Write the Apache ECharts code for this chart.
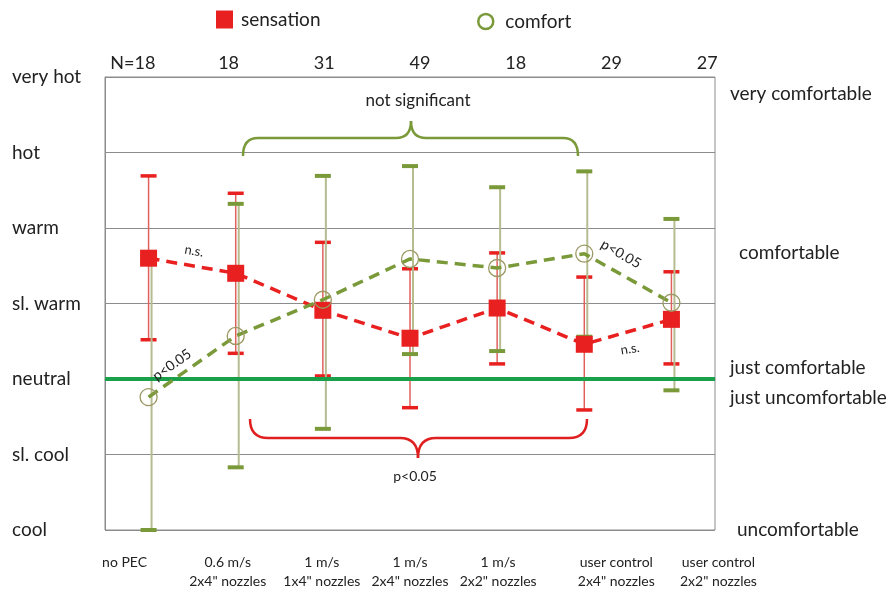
<!DOCTYPE html>
<html>
<head>
<meta charset="utf-8">
<script src="https://cdn.jsdelivr.net/npm/echarts@6/dist/echarts.min.js"></script>
<style>
  html, body { margin: 0; padding: 0; background: #fff; }
  #chart { width: 893px; height: 592px; }
</style>
</head>
<body>
<div id="chart"></div>
<script>
// Test conditions (x axis) and number of votes per condition
const conditions = ['no PEC', '0.6 m/s\n2x4" nozzles', '1 m/s\n1x4" nozzles', '1 m/s\n2x4" nozzles',
                    '1 m/s\n2x2" nozzles', 'user control\n2x4" nozzles', 'user control\n2x2" nozzles'];
const sampleSizes = ['N=18', '18', '31', '49', '18', '29', '27'];

// Thermal sensation scale: -2 (cool) ... 4 (very hot)
const sensationLevels = ['cool', 'sl. cool', 'neutral', 'sl. warm', 'warm', 'hot', 'very hot'];
// Comfort scale labels and where they sit on the shared vertical scale
const comfortLevels = ['very comfortable', 'comfortable', 'just comfortable', 'just uncomfortable', 'uncomfortable'];
const comfortLevelValues = [3.77, 1.67, 0.15, -0.25, -2.0];

// Mean votes with ranges
const sensationMean = [1.60, 1.40, 0.91, 0.54, 0.94, 0.46, 0.79];
const sensationHigh = [2.69, 2.46, 1.81, 1.46, 1.67, 1.35, 1.42];
const sensationLow  = [0.52, 0.34, 0.04, -0.38, 0.20, -0.41, 0.20];
const comfortMean = [-0.24, 0.57, 1.05, 1.59, 1.47, 1.66, 1.01];
const comfortHigh = [1.58, 2.32, 2.69, 2.82, 2.54, 2.75, 2.12];
const comfortLow  = [-2.00, -1.17, -0.66, 0.33, 0.37, 0.56, -0.15];

// Horizontal nudges for the condition labels (px)
const labelShift = [-24, -8, -1, 0, 1, 32, 47];
const comfortIndent = [0, 9, 0, 0, 7];

const FONT = 'Lato';
const TXT = '#222';
const RED = '#e8201f';
const OLIVE = '#7a9a3a';
const GRID = '#8c8c8c';

function errorBars(lineColor, lineWidth, capColor, capW, capH, dx) {
  return function (params, api) {
    const i = api.value(0);
    const top = api.coord([i, api.value(1)]);
    const bot = api.coord([i, api.value(2)]);
    const x = top[0];
    return {
      type: 'group',
      children: [
        { type: 'line', shape: { x1: x + dx, y1: top[1], x2: x + dx, y2: bot[1] },
          style: { stroke: lineColor, lineWidth: lineWidth } },
        { type: 'rect', shape: { x: x - capW / 2, y: top[1] - capH / 2, width: capW, height: capH },
          style: { fill: capColor } },
        { type: 'rect', shape: { x: x - capW / 2, y: bot[1] - capH / 2, width: capW, height: capH },
          style: { fill: capColor } }
      ]
    };
  };
}

// Curly brace built from curves and straight segments
function brace(xl, xr, xm, yEnd, yBar, yTip, r, color) {
  const st = { stroke: color, lineWidth: 2.5, fill: 'none' };
  const curve = (x1, y1, x2, y2, cx, cy) =>
    ({ type: 'bezierCurve', z: 10, shape: { x1, y1, x2, y2, cpx1: cx, cpy1: cy }, style: st });
  const seg = (x1, x2) => ({ type: 'line', z: 10, shape: { x1, y1: yBar, x2, y2: yBar }, style: st });
  return [
    curve(xl, yEnd, xl + r, yBar, xl, yBar),
    seg(xl + r, xm - r),
    curve(xm - r, yBar, xm, yTip, xm, yBar),
    curve(xm, yTip, xm + r, yBar, xm, yBar),
    seg(xm + r, xr - r),
    curve(xr - r, yBar, xr, yEnd, xr, yBar)
  ];
}

const richShift = {};
labelShift.forEach((d, i) => {
  richShift['s' + i] = {
    fontSize: 14, lineHeight: 19, color: TXT, fontFamily: FONT,
    padding: [0, d < 0 ? -2 * d : 0, 0, d > 0 ? 2 * d : 0]
  };
});
const richIndent = {};
comfortIndent.forEach((d, i) => {
  richIndent['c' + i] = { fontSize: 19, color: TXT, fontFamily: FONT, padding: [0, 0, 0, d] };
});

const chart = echarts.init(document.getElementById('chart'), null, { renderer: 'canvas' });

const textEl = (text, x, y, size, rotation) => ({
  type: 'text', x, y, rotation: rotation || 0, z: 10,
  style: { text, fill: TXT, font: size + 'px ' + FONT, align: 'center', verticalAlign: 'middle' }
});

chart.setOption({
  animation: false,
  backgroundColor: '#fff',
  textStyle: { fontFamily: FONT },
  legend: [
    { left: 216, top: 10, padding: 0, itemWidth: 17, itemHeight: 18, selectedMode: false,
      data: [{ name: 'sensation', icon: 'rect', itemStyle: { color: RED } }],
      textStyle: { fontSize: 19, color: TXT, fontFamily: FONT, padding: [0, 0, 8, 3] } },
    { left: 477, top: 12, padding: 0, itemWidth: 15, itemHeight: 15, selectedMode: false,
      data: [{ name: 'comfort', icon: 'circle',
               itemStyle: { color: '#fff', borderColor: OLIVE, borderWidth: 2.5 } }],
      textStyle: { fontSize: 19, color: TXT, fontFamily: FONT, padding: [0, 0, 4, 7] } }
  ],
  grid: [
    { left: 105, right: 178, top: 77, bottom: 62, show: true, borderColor: GRID, borderWidth: 1 },
    { left: 85, right: 138, top: 77, bottom: 62, show: false }
  ],
  xAxis: [
    { type: 'category', gridIndex: 0, data: conditions, boundaryGap: true,
      axisLine: { show: true, lineStyle: { color: GRID, width: 1 } },
      axisTick: { show: false },
      axisLabel: {
        interval: 0, margin: 23, verticalAlign: 'top',
        formatter: function (v, idx) {
          return v.split('\n').map(s => '{s' + idx + '|' + s + '}').join('\n');
        },
        rich: richShift
      } },
    { type: 'category', gridIndex: 1, position: 'top', data: sampleSizes, boundaryGap: true,
      axisLine: { show: false }, axisTick: { show: false },
      axisLabel: { interval: 0, margin: 5, fontSize: 18, color: TXT, fontFamily: FONT } }
  ],
  yAxis: [
    { type: 'value', gridIndex: 0, min: -2, max: 4, interval: 1,
      axisLine: { show: true, lineStyle: { color: GRID, width: 1 } },
      axisTick: { show: false },
      splitLine: { show: true, lineStyle: { color: GRID, width: 1 } },
      axisLabel: { align: 'left', margin: 93, fontSize: 19, color: TXT, fontFamily: FONT,
                   formatter: v => sensationLevels[Math.round(v) + 2] } },
    { type: 'value', gridIndex: 0, position: 'right', min: -2, max: 4,
      axisLine: { show: false }, axisTick: { show: false }, splitLine: { show: false },
      axisLabel: {
        customValues: comfortLevelValues, align: 'left', margin: 15,
        formatter: function (v) {
          let k = 0;
          comfortLevelValues.forEach((c, j) => { if (Math.abs(c - v) < Math.abs(comfortLevelValues[k] - v)) k = j; });
          return '{c' + k + '|' + comfortLevels[k] + '}';
        },
        rich: richIndent
      } },
    { type: 'value', gridIndex: 1, min: -2, max: 4, show: false }
  ],
  series: [
    { name: 'sensation range', type: 'custom', xAxisIndex: 0, yAxisIndex: 0, z: 2,
      renderItem: errorBars('#e0605c', 1.5, RED, 16, 3.5, 0),
      encode: { x: 0, y: [1, 2] },
      data: sensationMean.map((_, i) => [i, sensationHigh[i], sensationLow[i]]) },
    { name: 'comfort range', type: 'custom', xAxisIndex: 0, yAxisIndex: 0, z: 3,
      renderItem: errorBars('#b6bc90', 2, OLIVE, 16, 4, 3),
      encode: { x: 0, y: [1, 2] },
      data: comfortMean.map((_, i) => [i, comfortHigh[i], comfortLow[i]]) },
    { name: 'sensation', type: 'line', xAxisIndex: 0, yAxisIndex: 0, z: 4,
      data: sensationMean, symbol: 'rect', symbolSize: 17,
      itemStyle: { color: RED },
      lineStyle: { color: RED, width: 3.5, type: [11, 7] },
      markLine: {
        silent: true, symbol: ['none', 'none'], label: { show: false },
        lineStyle: { color: '#1a9f4a', width: 4, type: 'solid' },
        data: [{ yAxis: 0 }]
      } },
    { name: 'comfort', type: 'line', xAxisIndex: 0, yAxisIndex: 0, z: 5,
      data: comfortMean, symbol: 'circle', symbolSize: 17,
      itemStyle: { color: 'rgba(255,255,255,0)', borderColor: '#9a9863', borderWidth: 1.3 },
      lineStyle: { color: OLIVE, width: 3.5, type: [11, 7] } }
  ],
  graphic: [].concat(
    brace(243, 578, 411, 156, 138, 121, 15, OLIVE),
    brace(250, 587, 418, 419, 438, 458, 18, '#e02020'),
    [
      textEl('not significant', 418, 101, 17),
      textEl('p<0.05', 415, 476, 14),
      textEl('n.s.', 194, 251, 13, -0.17),
      textEl('p<0.05', 172, 365, 14, 0.62),
      textEl('p<0.05', 621, 254, 14, -0.52),
      textEl('n.s.', 630, 349, 13, 0.15)
    ]
  )
});
</script>
</body>
</html>
